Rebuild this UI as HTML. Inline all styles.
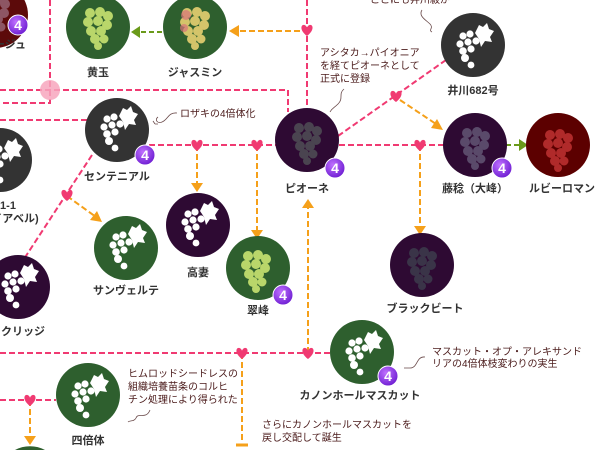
<!DOCTYPE html>
<html><head><meta charset="utf-8"><style>
html,body{margin:0;padding:0;background:#fff;width:600px;height:450px;overflow:hidden;}
svg{display:block;font-family:"Liberation Sans","Noto Sans CJK JP",sans-serif;}
.lb{font-size:11px;fill:#333;text-anchor:middle;font-weight:bold;}
.an{font-size:10px;fill:#4a1a1a;}
.pk{stroke:#f03a72;stroke-width:2;stroke-dasharray:6 3;fill:none;}
.or{stroke:#f5a01a;stroke-width:2;stroke-dasharray:6 3;fill:none;}
.gr{stroke:#6a9a1a;stroke-width:2;stroke-dasharray:5 3;fill:none;}
.cu{stroke:#6a4a4a;stroke-width:0.8;fill:none;}
</style></head><body>
<svg width="600" height="450" viewBox="0 0 600 450" xmlns="http://www.w3.org/2000/svg">
<defs>
<g id="ic">
<circle cx="-10" cy="-9" r="3.6" fill="#fff"/><circle cx="-3" cy="-11" r="3.6" fill="#fff"/>
<circle cx="-13" cy="-1" r="3.6" fill="#fff"/><circle cx="-5" cy="-3" r="3.6" fill="#fff"/><circle cx="3" cy="-4" r="3.6" fill="#fff"/>
<circle cx="-10" cy="6" r="3.8" fill="#fff"/><circle cx="-2" cy="4" r="3.6" fill="#fff"/>
<circle cx="-8" cy="13" r="4" fill="#fff"/><circle cx="-2" cy="20" r="3.4" fill="#fff"/>
<path d="M2,-12 L6,-20 L10,-18 L14,-22 L16,-16 L21,-14 L17,-8 L19,-3 L12,-4 L8,2 L6,-6 Z" fill="#fff"/>
</g>
<radialGradient id="bd" cx="40%" cy="35%" r="70%"><stop offset="0" stop-color="#c070ff"/><stop offset="1" stop-color="#6a1ad0"/></radialGradient>
<g id="b4"><circle r="10" fill="url(#bd)" stroke="#fff" stroke-width="1"/><text y="5" text-anchor="middle" font-size="14" font-weight="bold" fill="#fff" font-family="Liberation Sans,sans-serif">4</text></g>
<g id="hr"><path d="M0,4 C-8,-2 -6,-8 -2.5,-7 C-1,-6.5 0,-5 0,-4 C0,-5 1,-6.5 2.5,-7 C6,-8 8,-2 0,4 Z" fill="#f03a72"/></g>
<g id="gy"><circle cx="-8" cy="-12" r="5"/><circle cx="2" cy="-13" r="5"/><circle cx="10" cy="-9" r="5"/><circle cx="-10" cy="-3" r="5"/><circle cx="0" cy="-4" r="5"/><circle cx="9" cy="0" r="5"/><circle cx="-7" cy="6" r="5"/><circle cx="3" cy="6" r="5"/><circle cx="-3" cy="14" r="5"/><circle cx="6" cy="14" r="4.5"/><circle cx="0" cy="21" r="4"/></g>
</defs>

<path class="pk" d="M50,0 V103 H0"/>
<path class="pk" d="M0,90 H288 V112"/>
<path class="pk" d="M0,120 H88"/>
<path class="pk" d="M307,0 V108"/>
<path class="pk" d="M92,155 L22,262"/>
<path class="pk" d="M149,145 H276"/>
<path class="pk" d="M339,145 H444"/>
<path class="pk" d="M338,136 L446,60"/>
<path class="pk" d="M0,353 H330"/>
<path class="pk" d="M0,400 H56"/>
<circle cx="50" cy="90" r="10" fill="#f7a6bd" opacity="0.85"/>

<path class="or" d="M300,31 H236"/><path d="M229,31 L239,25 L239,37 Z" fill="#f5a01a"/>
<path class="gr" d="M162,32 H138"/><path d="M131,32 L140,26 L140,38 Z" fill="#6a9a1a"/>
<path class="or" d="M67,196 L96,217"/><path d="M102,222 L90,220 L97,211 Z" fill="#f5a01a"/>
<path class="or" d="M197,145 V185"/><path d="M197,192 L191,183 L203,183 Z" fill="#f5a01a"/>
<path class="or" d="M257,145 V232"/><path d="M257,239 L251,230 L263,230 Z" fill="#f5a01a"/>
<path class="or" d="M400,100 L436,124"/><path d="M443,130 L431,128 L437,119 Z" fill="#f5a01a"/>
<path class="or" d="M420,145 V228"/><path d="M420,235 L414,226 L426,226 Z" fill="#f5a01a"/>
<path class="or" d="M308,353 V207"/><path d="M308,199 L302,208 L314,208 Z" fill="#f5a01a"/>
<path class="or" d="M242,353 V443"/><path d="M236,445 H248" stroke="#f5a01a" stroke-width="3"/>
<path class="or" d="M30,400 V438"/><path d="M30,445 L24,436 L36,436 Z" fill="#f5a01a"/>
<path class="gr" d="M506,145 H522"/><path d="M528,145 L519,139 L519,151 Z" fill="#6a9a1a"/>

<use href="#hr" x="307" y="32"/>
<use href="#hr" x="197" y="147"/><use href="#hr" x="257" y="147"/>
<use href="#hr" x="67" y="197"/>
<use href="#hr" x="396" y="98"/><use href="#hr" x="420" y="147"/>
<use href="#hr" x="242" y="355"/><use href="#hr" x="308" y="355"/>
<use href="#hr" x="30" y="402"/>

<circle cx="-5" cy="15" r="33" fill="#5c0a0a"/>
<g fill="#9a6a7a" opacity="0.8"><use href="#gy" x="-5" y="13"/></g>
<use href="#b4" x="18" y="25"/>

<circle cx="98" cy="27" r="32" fill="#2e5f2e"/>
<g fill="#b9d66a"><use href="#gy" x="98" y="25"/></g>
<circle cx="195" cy="27" r="32" fill="#2e5f2e"/>
<g fill="#d4c46a"><use href="#gy" x="195" y="25"/></g>
<g fill="#d8747a" opacity="0.7"><circle cx="186" cy="15" r="5"/><circle cx="184" cy="28" r="4"/></g>

<circle cx="117" cy="130" r="32" fill="#333"/><use href="#ic" x="117" y="128"/><use href="#b4" x="145" y="155"/>
<circle cx="0" cy="160" r="32" fill="#333"/><use href="#ic" x="2" y="160"/>
<circle cx="18" cy="287" r="32" fill="#2e0a33"/><use href="#ic" x="18" y="285"/>
<circle cx="126" cy="248" r="32" fill="#2e5f2e"/><use href="#ic" x="126" y="246"/>
<circle cx="198" cy="225" r="32" fill="#2e0a33"/><use href="#ic" x="198" y="223"/>
<circle cx="258" cy="268" r="32" fill="#2e5f2e"/>
<g fill="#b9d66a"><use href="#gy" x="256" y="268"/></g><use href="#b4" x="283" y="295"/>
<circle cx="307" cy="140" r="32" fill="#2e0a33"/>
<g fill="#4a4450"><use href="#gy" x="307" y="140"/></g><use href="#b4" x="335" y="168"/>
<circle cx="473" cy="45" r="32" fill="#333"/><use href="#ic" x="473" y="45"/>
<circle cx="475" cy="145" r="32" fill="#2e0a33"/>
<g fill="#5a4a6a"><use href="#gy" x="475" y="145"/></g><use href="#b4" x="502" y="168"/>
<circle cx="558" cy="145" r="32" fill="#5c0000"/>
<g fill="#b02a2a"><use href="#gy" x="558" y="147"/></g>
<circle cx="422" cy="265" r="32" fill="#2e0a33"/>
<g fill="#3a3448"><use href="#gy" x="422" y="265"/></g>
<circle cx="362" cy="352" r="32" fill="#2e5f2e"/><use href="#ic" x="362" y="352"/><use href="#b4" x="388" y="376"/>
<circle cx="88" cy="395" r="32" fill="#2e5f2e"/><use href="#ic" x="88" y="395"/>
<path d="M15,450 A32,32 0 0 1 45,450 Z" fill="#2e5f2e"/>

<text class="lb" x="10" y="48">ージュ</text>
<text class="lb" x="98" y="76">黄玉</text>
<text class="lb" x="195" y="76">ジャスミン</text>
<text class="lb" x="117" y="180">センテニアル</text>
<text class="lb" x="8" y="209">1-1</text>
<text class="lb" x="15" y="222">イアベル)</text>
<text class="lb" x="12" y="335">ダークリッジ</text>
<text class="lb" x="126" y="294">サンヴェルテ</text>
<text class="lb" x="198" y="276">高妻</text>
<text class="lb" x="258" y="314">翠峰</text>
<text class="lb" x="307" y="192">ピオーネ</text>
<text class="lb" x="473" y="94">井川682号</text>
<text class="lb" x="475" y="192">藤稔（大峰）</text>
<text class="lb" x="562" y="192">ルビーロマン</text>
<text class="lb" x="425" y="312">ブラックビート</text>
<text class="lb" x="360" y="399">カノンホールマスカット</text>
<text class="lb" x="88" y="444">四倍体</text>

<text class="an" x="180" y="117">ロザキの4倍体化</text>
<path class="cu" d="M177,113 C168,112 168,120 162,122 C158,124 154,120 158,117 M155,124 L153,121 M155,124 L158,124"/>
<text class="an" x="370" y="3">ここにも井川級が</text>
<path class="cu" d="M422,10 C418,16 426,20 430,24 C434,28 428,30 432,32"/>
<text class="an" x="320" y="56">アシタカ→パイオニア</text>
<text class="an" x="320" y="69">を経てピオーネとして</text>
<text class="an" x="320" y="82">正式に登録</text>
<path class="cu" d="M344,89 C338,94 344,98 338,104 C334,108 332,108 330,112"/>
<text class="an" x="432" y="355">マスカット・オプ・アレキサンド</text>
<text class="an" x="432" y="367">リアの4倍体枝変わりの実生</text>
<path class="cu" d="M425,357 C416,356 418,368 410,368 C406,368 404,368 404,368"/>
<text class="an" x="128" y="377">ヒムロッドシードレスの</text>
<text class="an" x="128" y="390">組織培養苗条のコルヒ</text>
<text class="an" x="128" y="403">チン処理により得られた</text>
<path class="cu" d="M150,410 C146,420 138,412 136,418 C134,422 130,420 128,422"/>
<text class="an" x="262" y="428">さらにカノンホールマスカットを</text>
<text class="an" x="262" y="441">戻し交配して誕生</text>
</svg>
</body></html>
